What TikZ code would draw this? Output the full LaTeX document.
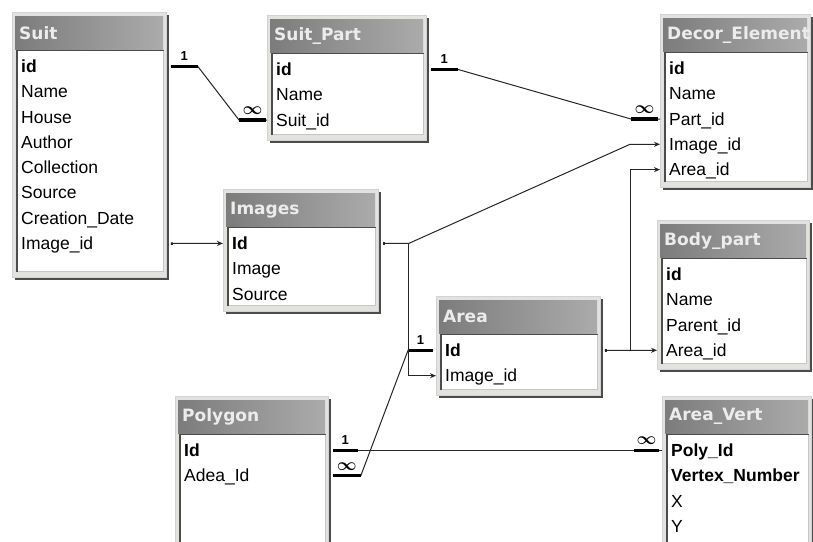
\documentclass[tikz,border=0pt]{standalone}
\usepackage{fontspec}
\setmainfont{Liberation Sans}
\newfontfamily\titlefont{DejaVu Sans}
\usepackage{xcolor}
\usepackage{tikz}
\usetikzlibrary{positioning,arrows.meta,calc,shadows}
\definecolor{acFrame}{HTML}{E2E2DE}
\definecolor{acTitleL}{HTML}{7C7C7C}
\definecolor{acTitleR}{HTML}{ABABAB}
\definecolor{acLine}{HTML}{262626}

\begin{document}
\begin{tikzpicture}[
      x=1pt, y=-1pt,
      tframe/.style={rectangle, anchor=north west, fill=acFrame, draw=gray!35, line width=0.8pt,
                     drop shadow={shadow xshift=2.5pt, shadow yshift=-2.5pt, opacity=1, fill=black!70}},
      ttitle/.style={rectangle, anchor=north west, left color=acTitleL, right color=acTitleR,
                     minimum height=33pt, inner xsep=4pt, inner ysep=0pt, align=left,
                     text=white!85!gray, font=\titlefont\bfseries\fontsize{17}{20}\selectfont},
      tbox/.style={rectangle, anchor=north west, fill=white, draw=gray!45, line width=1pt},
      field/.style={anchor=west, inner sep=0pt, text height=13pt, text depth=1pt,
                    font=\fontsize{17.5}{20}\selectfont},
      link/.style={acLine, line width=1pt},
      joint/.style={link, {Square[length=2pt,width=2.5pt]}-{Stealth[length=6pt,width=5pt]}},
      stub/.style={black, line width=3.2pt},
      one/.style={midway, above=3pt, inner sep=1pt, font=\bfseries\fontsize{13}{14}\selectfont},
      many/.style={midway, above=3pt, inner sep=1pt, font=\fontsize{19}{19}\selectfont\boldmath}
    ]
    \useasboundingbox (0,0) rectangle (813,541);
    \clip (0,0) rectangle (813,541);
    \fill[white] (0,0) rectangle (813,541);

    \node[tframe, minimum width=154, minimum height=265] (suit) at (12,12) {};
    \node[ttitle, text width=140] (suit-t) at ($(suit.north west)+(3,4)$) {Suit};
    \node[tbox, minimum width=146, minimum height=221] (suit-b) at ($(suit-t.south west)+(2,1)$) {};
    \foreach \txt/\key [count=\i] in {\textbf{id}/id, Name/name, House/house, Author/author,
        Collection/collection, Source/source, Creation\_Date/date, Image\_id/imageid}
      \node[field] (suit-\key) at ($(suit-b.north west)+(4,{16+25.3*(\i-1)})$) {\txt};

    \node[tframe, minimum width=159, minimum height=125] (suitpart) at (267,15) {};
    \node[ttitle, text width=145] (suitpart-t) at ($(suitpart.north west)+(3,4)$) {Suit\_Part};
    \node[tbox, minimum width=151, minimum height=81] (suitpart-b) at ($(suitpart-t.south west)+(2,1)$) {};
    \foreach \txt/\key [count=\i] in {\textbf{id}/id, Name/name, Suit\_id/suitid}
      \node[field] (suitpart-\key) at ($(suitpart-b.north west)+(4,{16+25.3*(\i-1)})$) {\txt};

    \node[tframe, minimum width=150, minimum height=173] (decor) at (660,14) {};
    \node[ttitle, text width=136] (decor-t) at ($(decor.north west)+(3,4)$) {\mbox{Decor\_Element}};
    \node[tbox, minimum width=142, minimum height=129] (decor-b) at ($(decor-t.south west)+(2,1)$) {};
    \foreach \txt/\key [count=\i] in {\textbf{id}/id, Name/name, Part\_id/partid, Image\_id/imageid, Area\_id/areaid}
      \node[field] (decor-\key) at ($(decor-b.north west)+(4,{16+25.3*(\i-1)})$) {\txt};

    \node[tframe, minimum width=155, minimum height=122] (images) at (223,189) {};
    \node[ttitle, text width=141] (images-t) at ($(images.north west)+(3,4)$) {Images};
    \node[tbox, minimum width=147, minimum height=78] (images-b) at ($(images-t.south west)+(2,1)$) {};
    \foreach \txt/\key [count=\i] in {\textbf{Id}/id, Image/image, Source/source}
      \node[field] (images-\key) at ($(images-b.north west)+(4,{16+25.3*(\i-1)})$) {\txt};

    \node[tframe, minimum width=152, minimum height=149] (bodypart) at (657,220) {};
    \node[ttitle, text width=138] (bodypart-t) at ($(bodypart.north west)+(3,4)$) {Body\_part};
    \node[tbox, minimum width=144, minimum height=105] (bodypart-b) at ($(bodypart-t.south west)+(2,1)$) {};
    \foreach \txt/\key [count=\i] in {\textbf{id}/id, Name/name, Parent\_id/parentid, Area\_id/areaid}
      \node[field] (bodypart-\key) at ($(bodypart-b.north west)+(4,{16+25.3*(\i-1)})$) {\txt};

    \node[tframe, minimum width=164, minimum height=99] (area) at (436,296) {};
    \node[ttitle, text width=150] (area-t) at ($(area.north west)+(3,4)$) {Area};
    \node[tbox, minimum width=156, minimum height=55] (area-b) at ($(area-t.south west)+(2,1)$) {};
    \foreach \txt/\key [count=\i] in {\textbf{Id}/id, Image\_id/imageid}
      \node[field] (area-\key) at ($(area-b.north west)+(4,{16+25.3*(\i-1)})$) {\txt};

    \node[tframe, minimum width=153, minimum height=160] (polygon) at (175,396) {};
    \node[ttitle, text width=139] (polygon-t) at ($(polygon.north west)+(3,4)$) {Polygon};
    \node[tbox, minimum width=145, minimum height=116] (polygon-b) at ($(polygon-t.south west)+(2,1)$) {};
    \foreach \txt/\key [count=\i] in {\textbf{Id}/id, Adea\_Id/adeaid}
      \node[field] (polygon-\key) at ($(polygon-b.north west)+(4,{16+25.3*(\i-1)})$) {\txt};

    \node[tframe, minimum width=149, minimum height=160] (areavert) at (662,396) {};
    \node[ttitle, text width=135] (areavert-t) at ($(areavert.north west)+(3,4)$) {Area\_Vert};
    \node[tbox, minimum width=141, minimum height=116] (areavert-b) at ($(areavert-t.south west)+(2,1)$) {};
    \foreach \txt/\key [count=\i] in {\textbf{Poly\_Id}/polyid, \textbf{Vertex\_Number}/vertex, X/x, Y/y}
      \node[field] (areavert-\key) at ($(areavert-b.north west)+(4,{16+25.3*(\i-1)})$) {\txt};

    \foreach \t in {suit, suitpart, decor, images, bodypart, area, polygon, areavert}
      \draw[black!70, line width=1.5pt] (\t-b.south west) |- (\t-b.north east);

    \draw[link] ($(suit.east |- suit-id)+(4,0)$) -- ++(27,0)
      -- ($(suitpart.west |- suitpart-suitid)+(-28,0)$) -- (suitpart.west |- suitpart-suitid);
    \draw[stub] ($(suit.east |- suit-id)+(4,0)$) -- ++(27,0) node[one] {1};
    \draw[stub] ($(suitpart.west |- suitpart-suitid)+(-1,0)$) -- ++(-27,0) node[many] {$\infty$};

    \draw[link] ($(suitpart.east |- suitpart-id)+(4,0)$) -- ++(27,0)
      -- ($(decor.west |- decor-partid)+(-29,0)$) -- (decor.west |- decor-partid);
    \draw[stub] ($(suitpart.east |- suitpart-id)+(4,0)$) -- ++(27,0) node[one] {1};
    \draw[stub] ($(decor.west |- decor-partid)+(-2,0)$) -- ++(-27,0) node[many] {$\infty$};

    \draw[link] ($(polygon.east |- polygon-id)+(4,0)$) -- (areavert.west |- areavert-polyid);
    \draw[stub] ($(polygon.east |- polygon-id)+(4,0)$) -- ++(25,0) node[one] {1};
    \draw[stub] ($(areavert.west |- areavert-polyid)+(-3,0)$) -- ++(-25,0) node[many] {$\infty$};

    \draw[link] ($(area.west |- area-id)+(-3,0)$) -- ++(-25,0)
      -- ($(polygon.east |- polygon-adeaid)+(32,0)$) -- ($(polygon.east |- polygon-adeaid)+(4,0)$);
    \draw[stub] ($(area.west |- area-id)+(-3,0)$) -- ++(-25,0) node[one] {1};
    \draw[stub] ($(polygon.east |- polygon-adeaid)+(4,0)$) -- ++(28,0) node[many] {$\infty$};

    \draw[joint] ($(suit.east |- suit-imageid)+(4,0)$) -- (images.west |- images-id);
    \draw[joint] ($(images.east |- images-id)+(4,0)$) -- ++(26,0)
      -- ($(decor.west |- decor-imageid)+(-30,0)$) -- (decor.west |- decor-imageid);
    \draw[joint] ($(images.east |- images-id)+(4,0)$) -- ++(26,0) |- (area.west |- area-imageid);
    \draw[joint] ($(area.east |- area-id)+(4,0)$) -- ++(26,0) |- (decor.west |- decor-areaid);
    \draw[joint] ($(area.east |- area-id)+(4,0)$) -- (bodypart.west |- bodypart-areaid);
  \end{tikzpicture}
\end{document}
